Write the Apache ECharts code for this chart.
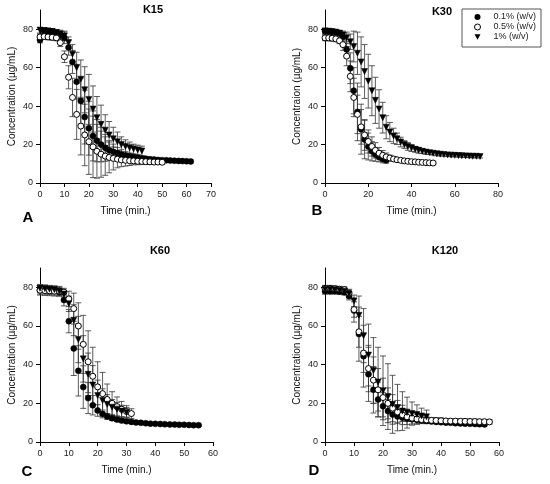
<!DOCTYPE html>
<html>
<head>
<meta charset="utf-8">
<script src="https://cdn.jsdelivr.net/npm/echarts@6/dist/echarts.min.js"></script>
<style>
  html, body { margin: 0; padding: 0; background: #fff; }
  #chart { width: 550px; height: 484px; }
</style>
</head>
<body>
<div id="chart"></div>
<script>
// sampling times (min.), shared by all panels
const times = [0, 1.7, 3.3, 5, 6.7, 8.3, 10, 11.7, 13.3, 15, 16.7, 18.3, 20, 21.7, 23.3, 25, 26.7, 28.3, 30, 31.7,
  33.3, 35, 36.7, 38.3, 40, 41.7, 43.3, 45, 46.7, 48.3, 50, 51.7, 53.3, 55, 56.7, 58.3, 60, 61.7, 63.3, 65,
  66.7, 68.3, 70, 71.7];

const seriesNames = ['0.1% (w/v)', '0.5% (w/v)', '1% (w/v)'];
const yTicks = [0, 20, 40, 60, 80];

// K15
const k15Low = [74.4, 79, 79, 78.5, 78, 77, 75.5, 70.5, 63, 52.7, 42.6, 34.3, 28.5, 24.5, 22, 20, 18.3, 17, 16.2, 15.5,
  14.8, 14.3, 13.8, 13.4, 13.1, 12.8, 12.6, 12.4, 12.2, 12, 11.9, 11.8, 11.7, 11.6, 11.5, 11.4, 11.3, 11.2];
const k15LowSd = [1.5, 1.5, 1.5, 1.5, 1.5, 2, 3, 4, 6, 9, 12, 14, 14, 13, 11, 9, 7, 5, 4, 3,
  2.5, 2, 1.8, 1.5, 1.5, 1.2, 1.2, 1, 1, 1, 0.8, 0.8, 0.8, 0.8, 0.8, 0.8, 0.8, 0.8];
const k15Mid = [76, 76.2, 76, 75.8, 75.5, 73, 65.7, 55, 44.5, 35.7, 29.6, 25, 21.5, 18.8, 16.5, 15, 14, 13.3, 12.8, 12.4,
  12, 11.8, 11.6, 11.5, 11.3, 11.2, 11.1, 11, 10.9, 10.9, 10.8];
const k15MidSd = [1.5, 1.5, 1.5, 1.5, 1.5, 2, 3, 6, 10, 13, 15, 16, 17, 16, 14, 12, 10, 8, 6, 4.5,
  3.5, 3, 2.5, 2, 1.8, 1.5, 1.5, 1.2, 1.2, 1, 1];
const k15High = [79.5, 79.3, 79, 78.8, 78.3, 77.5, 76.5, 73, 67, 60, 54, 48.5, 43.5, 38.5, 34, 30.5, 27.5, 25, 23, 21.5,
  20, 19, 18.3, 17.7, 17.2, 16.7];
const k15HighSd = [1.5, 1.5, 1.5, 1.5, 1.5, 2, 2.5, 3, 5, 8, 10, 12, 13, 12, 11, 10, 8, 7, 6, 5,
  4, 3.5, 3, 2.5, 2.5, 2.5];

// K30
const k30Low = [79, 79, 78.8, 78.5, 78, 76, 69.5, 59.7, 48, 37, 28, 22.6, 19, 16.5, 14.8, 13.5, 12.5, 11.8];
const k30LowSd = [1.5, 1.5, 1.5, 1.5, 1.5, 2, 4, 8, 12, 15, 13, 10, 7, 5, 3.5, 2.5, 2, 1.5];
const k30Mid = [75.5, 75.5, 75.3, 75, 74, 72, 66, 55.5, 44.5, 35.7, 29.2, 25, 21.6, 19, 17, 15.5, 14.4, 13.6, 13, 12.5,
  12.1, 11.8, 11.5, 11.3, 11.1, 11, 10.8, 10.7, 10.6, 10.5, 10.4];
const k30MidSd = [1.5, 1.5, 1.5, 1.5, 1.5, 3, 5, 8, 10, 10, 9, 8, 6, 5, 4, 3, 2.5, 2, 1.5, 1.2,
  1, 1, 1, 0.8, 0.8, 0.8, 0.8, 0.8, 0.8, 0.8, 0.8];
const k30High = [79, 78.8, 78.5, 78.2, 77.8, 77, 75.5, 73.5, 71, 67.5, 63, 58, 53, 48, 43, 38.5, 34, 29, 26.5, 24.5,
  23, 21.3, 20, 19, 18.2, 17.5, 17, 16.5, 16.1, 15.8, 15.5, 15.2, 15, 14.8, 14.6, 14.5, 14.4, 14.3, 14.2, 14.1,
  14, 13.9, 13.9, 13.8];
const k30HighSd = [1.5, 1.5, 1.5, 1.5, 1.5, 2, 3, 4, 8, 11, 13, 14, 14, 13, 12, 10, 8, 6, 5, 4,
  3, 2.5, 2, 2, 1.8, 1.5, 1.5, 1.2, 1.2, 1, 1, 1, 1, 0.8, 0.8, 0.8, 0.8, 0.8, 0.8, 0.8,
  0.8, 0.8, 0.8, 0.8];

// K60
const k60Low = [78.5, 78.5, 78.3, 78, 77.5, 73.4, 62.5, 48.4, 36.8, 28.4, 22.7, 19, 16.3, 14.5, 13.2, 12.3, 11.6, 11.1, 10.7, 10.4,
  10.1, 9.9, 9.7, 9.5, 9.4, 9.3, 9.2, 9.1, 9, 8.9, 8.9, 8.8, 8.7, 8.7];
const k60LowSd = [2, 2, 2, 2, 2, 3, 6, 14, 13, 11, 8, 5, 3, 2, 1.5, 1.2, 1, 1, 1, 0.8,
  0.8, 0.8, 0.8, 0.6, 0.6, 0.6, 0.6, 0.6, 0.6, 0.5, 0.5, 0.5, 0.5, 0.5];
const k60Mid = [78.5, 78.3, 78.2, 78, 78, 77.5, 74, 69, 60, 50.5, 41.5, 34, 28.5, 25, 22, 20, 18.3, 17, 15.8, 14.7];
const k60MidSd = [2.5, 2.5, 2.5, 2.5, 2.5, 2, 4, 8, 12, 15, 16, 15, 13, 11, 8, 6, 5, 4, 3, 2.5];
const k60High = [79.5, 79.3, 79, 78.8, 78, 76.5, 71.5, 63, 53, 43, 35, 29.5, 24, 21.5, 19.5, 18, 17, 16, 15.3];
const k60HighSd = [2, 2, 2, 2, 2, 2, 4, 8, 12, 12, 11, 10, 8, 6, 5, 4, 3.5, 3, 2.5];

// K120
const k120Low = [78, 78, 78, 77.8, 77.5, 75.5, 68, 55.8, 44.4, 35, 27, 22, 18.5, 16, 14.2, 13.2, 12.6, 12.1, 11.8, 11.5,
  11.2, 10.9, 10.6, 10.4, 10.2, 10, 9.9, 9.7, 9.6, 9.5, 9.4, 9.3, 9.2, 9.1];
const k120LowSd = [1.5, 1.5, 1.5, 1.5, 1.5, 2, 6, 14, 16, 14, 12, 9, 7, 6, 5, 3, 2, 1.5, 1.2, 1,
  1, 1, 0.8, 0.8, 0.8, 0.8, 0.8, 0.8, 0.8, 0.8, 0.8, 0.8, 0.8, 0.8];
const k120Mid = [79.5, 79.5, 79.3, 79, 78.8, 77, 68.5, 57, 46, 38, 32, 27, 23, 20, 17.5, 15.5, 14, 13, 12.3, 11.9,
  11.6, 11.4, 11.2, 11.1, 11, 10.9, 10.8, 10.8, 10.7, 10.7, 10.6, 10.6, 10.5, 10.5, 10.4];
const k120MidSd = [1.5, 1.5, 1.5, 1.5, 1.5, 2, 4, 8, 10, 12, 12, 11, 10, 8, 7, 6, 5, 4, 3, 2.5,
  2, 1.5, 1.5, 1.5, 1.5, 1.2, 1.2, 1.2, 1.2, 1.2, 1.2, 1.2, 1.2, 1.2, 1.2];
const k120High = [79, 79, 78.8, 78.5, 78, 76.5, 73, 65.5, 55, 45, 37, 31, 26.5, 23.5, 19.5, 17.8, 16, 15.2, 14.7, 14.2,
  13.5, 13];
const k120HighSd = [1.5, 1.5, 1.5, 1.5, 1.5, 2, 3, 10, 14, 16, 17, 18, 18, 17, 15, 12, 10, 8, 6, 5,
  4, 3.5];

const FONT = '"Liberation Sans", Arial, sans-serif';
const DOWN_TRIANGLE = 'path://M0,0L10,0L5,9Z';

const panels = [
  { title: 'K15', letter: 'A', xMax: 70, xStep: 10, yName: 'Concentration (µg/mL)',
    sets: [[k15Low, k15LowSd], [k15Mid, k15MidSd], [k15High, k15HighSd]],
    grid: { left: 40, top: 10, width: 171, height: 173 }, titleAt: [153, 10], letterAt: [28, 218] },
  { title: 'K30', letter: 'B', xMax: 80, xStep: 20, yName: 'Concentraion (µg/mL)',
    sets: [[k30Low, k30LowSd], [k30Mid, k30MidSd], [k30High, k30HighSd]],
    grid: { left: 325, top: 10, width: 173, height: 173 }, titleAt: [442, 12], letterAt: [317, 211] },
  { title: 'K60', letter: 'C', xMax: 60, xStep: 10, yName: 'Concentration (µg/mL)',
    sets: [[k60Low, k60LowSd], [k60Mid, k60MidSd], [k60High, k60HighSd]],
    grid: { left: 40, top: 268, width: 173, height: 174 }, titleAt: [160, 251], letterAt: [27, 472] },
  { title: 'K120', letter: 'D', xMax: 60, xStep: 10, yName: 'Concentration (µg/mL)',
    sets: [[k120Low, k120LowSd], [k120Mid, k120MidSd], [k120High, k120HighSd]],
    grid: { left: 325, top: 268, width: 174, height: 174 }, titleAt: [445, 251], letterAt: [314, 471] }
];

const markerStyles = [
  { symbol: 'circle', symbolSize: 6, itemStyle: { color: '#000', borderColor: '#000', borderWidth: 0.5, opacity: 1 } },
  { symbol: 'circle', symbolSize: 6, itemStyle: { color: '#fff', borderColor: '#000', borderWidth: 1, opacity: 1 } },
  { symbol: DOWN_TRIANGLE, symbolSize: [6, 6], itemStyle: { color: '#000', borderColor: '#000', borderWidth: 0.5, opacity: 1 } }
];

function renderErrorBar(params, api) {
  const x = api.value(0);
  const y = api.value(1);
  const sd = api.value(2);
  const top = api.coord([x, y + sd]);
  const bot = api.coord([x, y - sd]);
  const w = 3;
  const style = { stroke: '#333', lineWidth: 0.8 };
  return {
    type: 'group',
    children: [
      { type: 'line', shape: { x1: top[0], y1: top[1], x2: bot[0], y2: bot[1] }, style: style },
      { type: 'line', shape: { x1: top[0] - w, y1: top[1], x2: top[0] + w, y2: top[1] }, style: style },
      { type: 'line', shape: { x1: bot[0] - w, y1: bot[1], x2: bot[0] + w, y2: bot[1] }, style: style }
    ]
  };
}

const axisText = { fontFamily: FONT, fontSize: 9, color: '#222' };
const nameText = { fontFamily: FONT, fontSize: 10, color: '#111' };

const grids = [], xAxes = [], yAxes = [], series = [], graphics = [];

panels.forEach((p, i) => {
  grids.push(Object.assign({ containLabel: false }, p.grid));
  xAxes.push({
    gridIndex: i, type: 'value', min: 0, max: p.xMax, interval: p.xStep,
    name: 'Time (min.)', nameLocation: 'middle', nameGap: 23, nameTextStyle: nameText,
    axisLine: { show: true, onZero: false, lineStyle: { color: '#000', width: 1 } },
    axisTick: { show: true, length: 4, lineStyle: { color: '#000' } },
    axisLabel: Object.assign({ margin: 7 }, axisText),
    splitLine: { show: false }
  });
  yAxes.push({
    gridIndex: i, type: 'value', min: 0, max: 90, interval: 10,
    name: p.yName, nameLocation: 'middle', nameGap: 23, nameTextStyle: nameText,
    axisLine: { show: true, lineStyle: { color: '#000', width: 1 } },
    axisTick: { show: true, length: 4, customValues: yTicks, lineStyle: { color: '#000' } },
    axisLabel: Object.assign({ margin: 7, customValues: yTicks }, axisText),
    splitLine: { show: false }
  });

  p.sets.forEach((set, k) => {
    const vals = set[0], sds = set[1];
    series.push({
      type: 'custom', name: 'err' + i + k, xAxisIndex: i, yAxisIndex: i, z: 1,
      renderItem: renderErrorBar, encode: { x: 0, y: 1 },
      data: vals.map((v, j) => [times[j], v, sds[j]])
    });
  });
  p.sets.forEach((set, k) => {
    const vals = set[0];
    series.push(Object.assign({
      type: 'scatter', name: seriesNames[k], xAxisIndex: i, yAxisIndex: i, z: 3 + k,
      data: vals.map((v, j) => [times[j], v])
    }, markerStyles[k]));
  });

  graphics.push({
    type: 'text', x: p.titleAt[0], y: p.titleAt[1],
    style: { text: p.title, font: 'bold 11px ' + FONT, fill: '#000', align: 'center', verticalAlign: 'middle' }
  });
  graphics.push({
    type: 'text', x: p.letterAt[0], y: p.letterAt[1],
    style: { text: p.letter, font: 'bold 15px ' + FONT, fill: '#000', align: 'center', verticalAlign: 'middle' }
  });
});

const chart = echarts.init(document.getElementById('chart'), null, { renderer: 'canvas' });
chart.setOption({
  animation: false,
  backgroundColor: '#fff',
  grid: grids,
  xAxis: xAxes,
  yAxis: yAxes,
  legend: {
    data: [
      { name: seriesNames[0], icon: 'circle', itemStyle: { color: '#000', borderWidth: 0, opacity: 1 } },
      { name: seriesNames[1], icon: 'circle', itemStyle: { color: '#fff', borderColor: '#000', borderWidth: 1, opacity: 1 } },
      { name: seriesNames[2], icon: DOWN_TRIANGLE, itemStyle: { color: '#000', borderWidth: 0, opacity: 1 } }
    ],
    orient: 'vertical', left: 462, top: 9,
    padding: [3, 5, 5, 12], itemGap: 0, itemWidth: 6, itemHeight: 6,
    borderColor: '#555', borderWidth: 1, borderRadius: 0,
    textStyle: { fontFamily: FONT, fontSize: 9, color: '#222', lineHeight: 10, padding: [0, 0, 0, 8] }
  },
  graphic: graphics,
  series: series
});
</script>
</body>
</html>
